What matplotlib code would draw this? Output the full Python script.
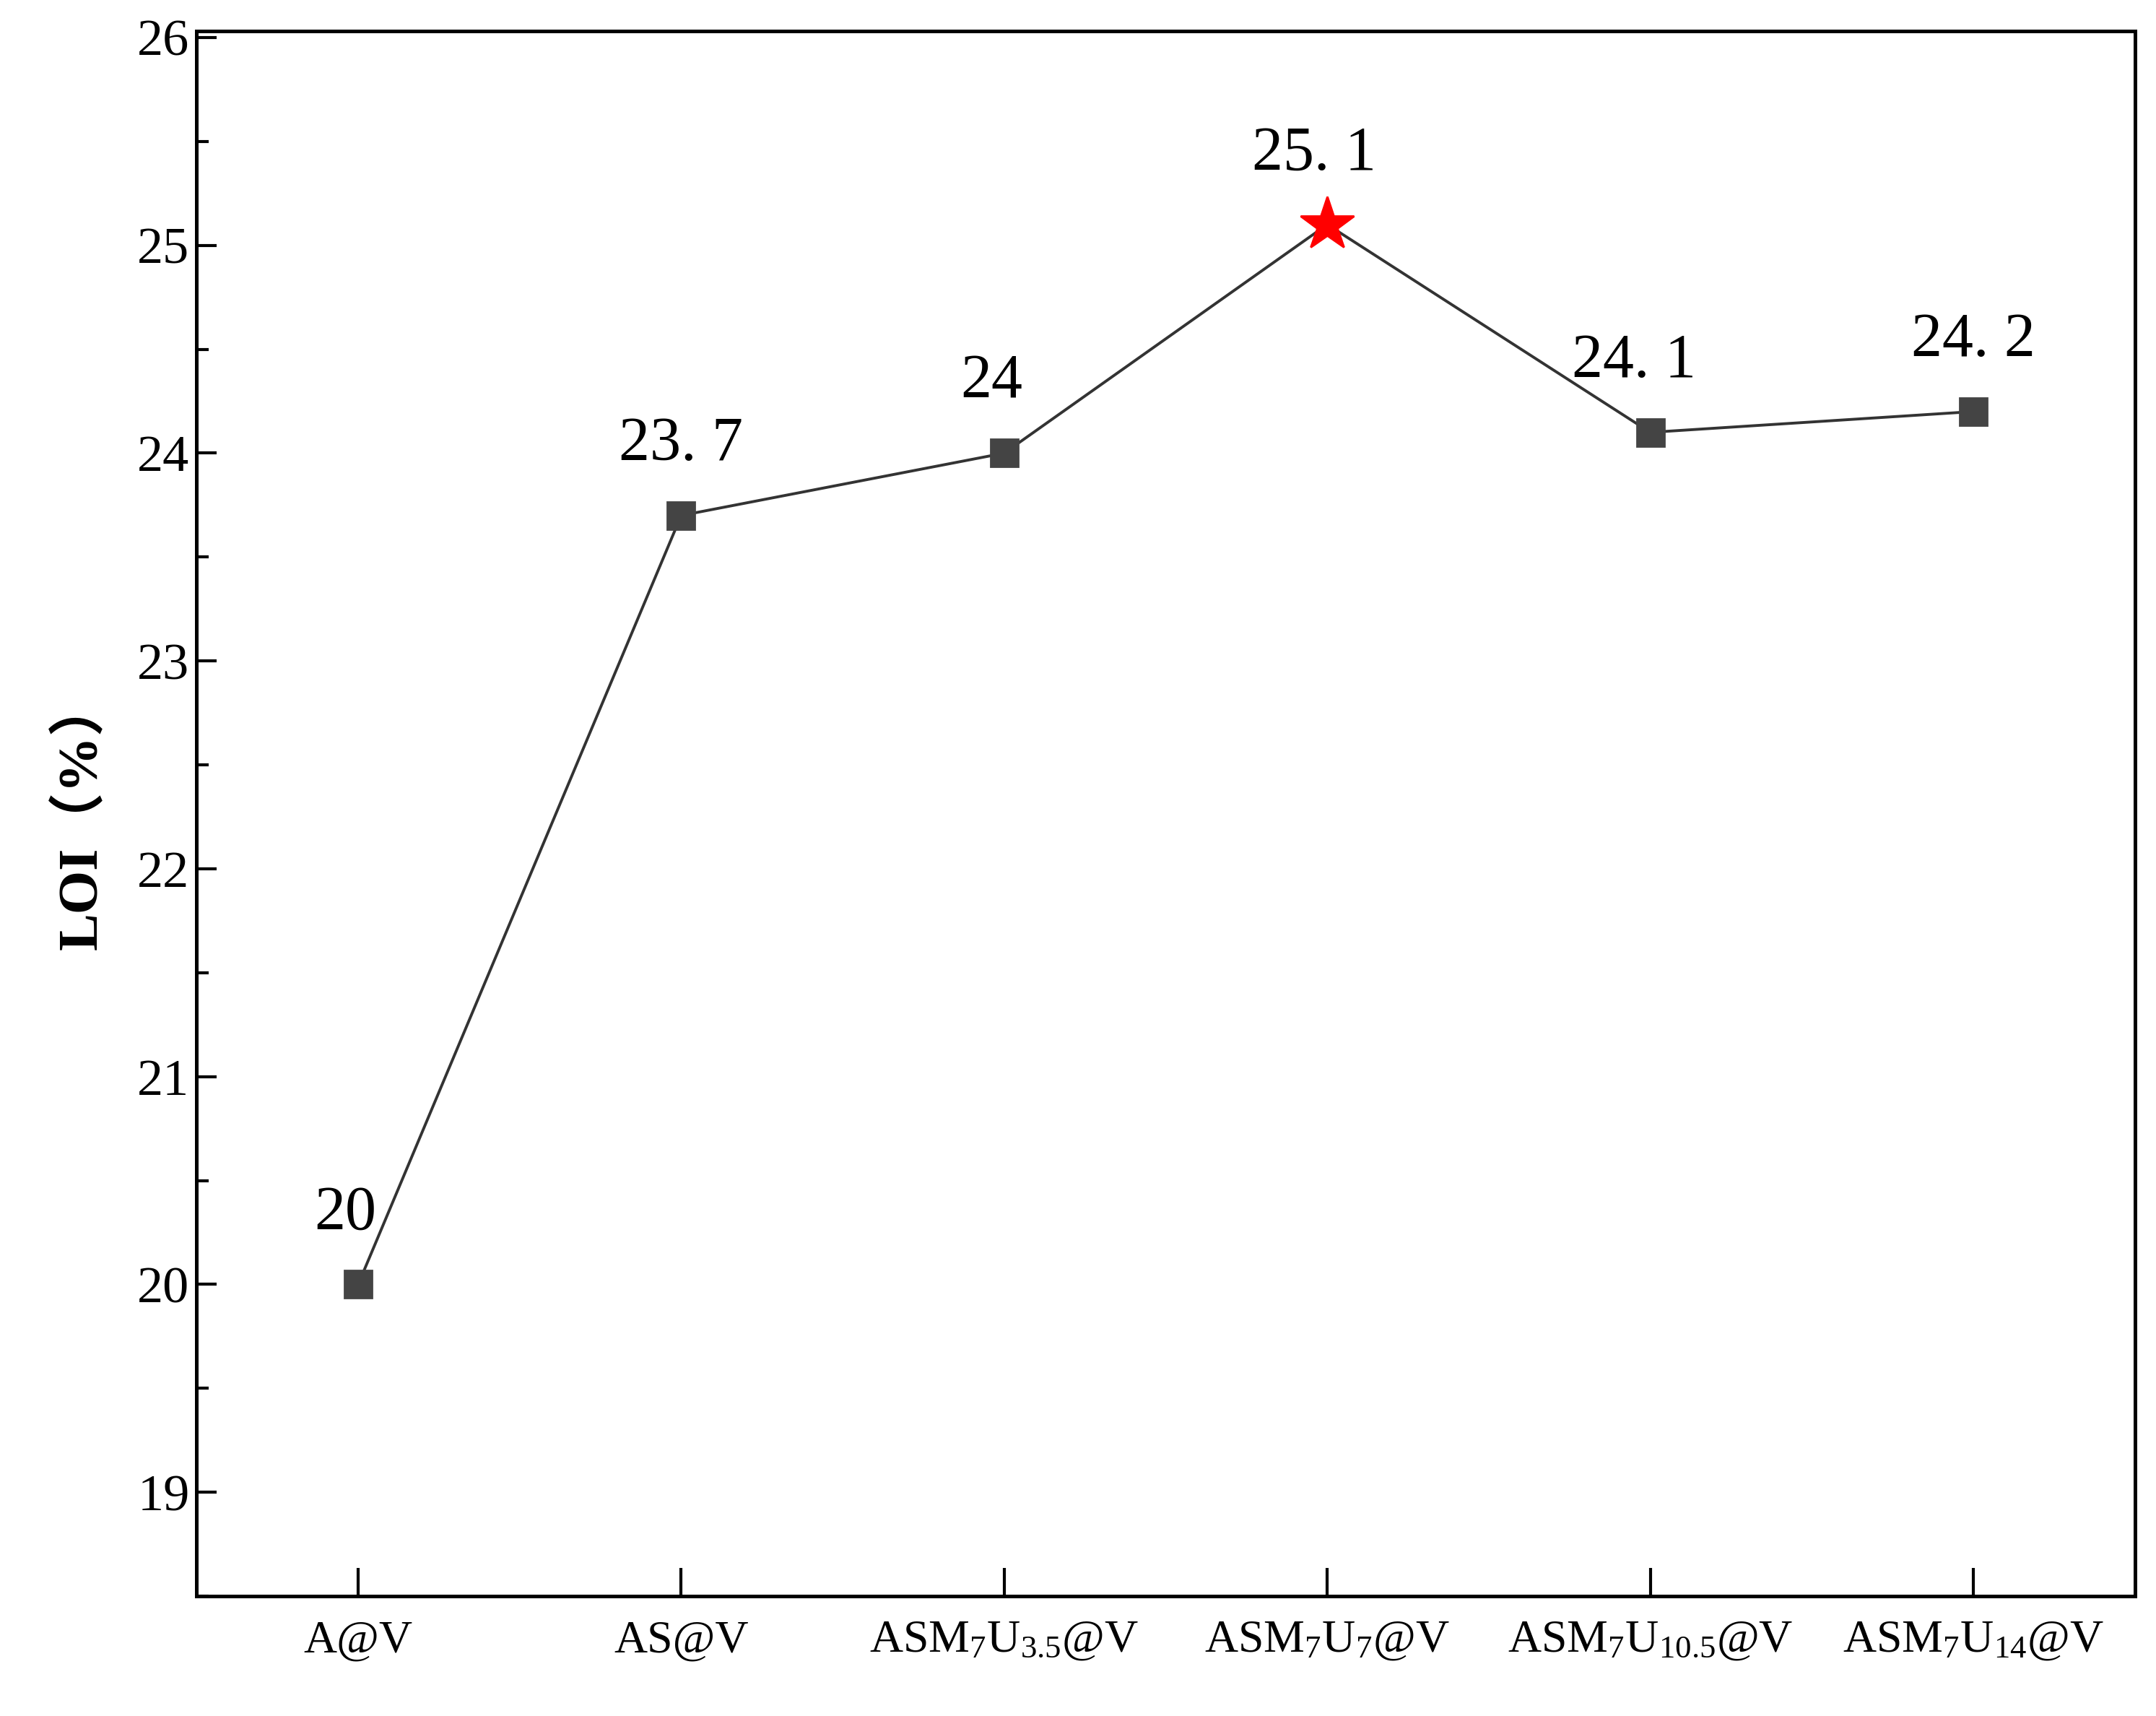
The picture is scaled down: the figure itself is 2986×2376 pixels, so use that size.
import matplotlib
matplotlib.use("Agg")
import matplotlib.pyplot as plt
from matplotlib.ticker import MultipleLocator

categories = [r"A@V", r"AS@V", r"ASM$_7$U$_{3.5}$@V", r"ASM$_7$U$_7$@V",
              r"ASM$_7$U$_{10.5}$@V", r"ASM$_7$U$_{14}$@V"]
loi = [20.0, 23.7, 24.0, 25.1, 24.1, 24.2]
labels = ["20", "23. 7", "24", "25. 1", "24. 1", "24. 2"]
star_index = 3

plt.rcParams["font.family"] = ["Liberation Serif", "Noto Sans CJK SC"]
plt.rcParams["mathtext.fontset"] = "custom"
plt.rcParams["mathtext.rm"] = "Liberation Serif"
plt.rcParams["mathtext.it"] = "Liberation Serif"

fig = plt.figure(figsize=(14.93, 11.88), dpi=200)
ax = fig.add_axes([0.0912, 0.0698, 0.899, 0.912])
x = list(range(len(loi)))
ax.plot(x, loi, color="#333333", lw=1.4, zorder=2)
for i, (xi, yi) in enumerate(zip(x, loi)):
    if i == star_index:
        ax.plot(xi, yi, marker="*", color="red", ms=28, mec="red", zorder=3)
    else:
        ax.plot(xi, yi, marker="s", color="#444444", ms=14, zorder=3)
    dx = -0.05 if i == 4 else (-0.04 if i in (0, 2, 3) else 0)
    ax.text(xi + dx, yi + 0.2, labels[i], ha="center", va="bottom", fontsize=31)

ax.set_xlim(-0.5, 5.5)
ax.set_ylim(18.5, 26.03)
ax.set_xticks(x)
ax.set_xticklabels(categories, fontsize=23)
ax.yaxis.set_major_locator(MultipleLocator(1))
ax.yaxis.set_minor_locator(MultipleLocator(0.5))
ax.tick_params(axis="y", which="major", direction="in", length=10, width=1.5, labelsize=26)
ax.tick_params(axis="y", which="minor", direction="in", length=6, width=1.5)
ax.tick_params(axis="x", direction="in", length=14, width=1.5, pad=12)
for s in ax.spines.values():
    s.set_linewidth(1.8)
ax.set_ylabel("LOI（%）", fontsize=28, fontweight="bold", labelpad=14)
fig.savefig("out.png", dpi=200)
